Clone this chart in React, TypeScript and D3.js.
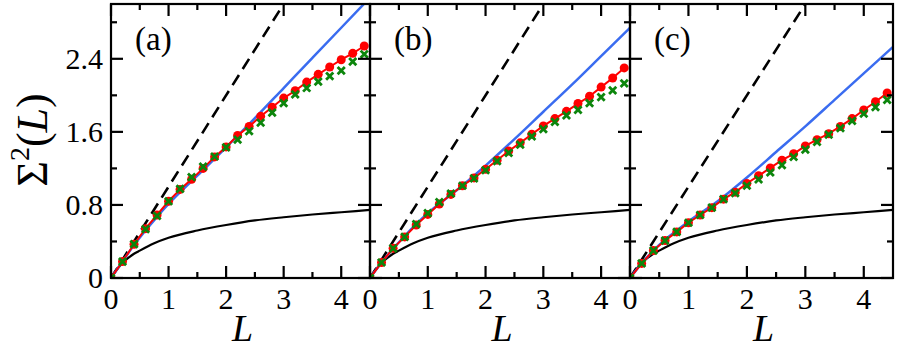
import React, { useEffect, useRef } from 'react'
import * as d3 from 'd3'

// sample positions (same for every panel)
const L_POINTS = [0, 0.2, 0.4, 0.6, 0.8, 1.0, 1.2, 1.4, 1.6, 1.8, 2.0, 2.2, 2.4, 2.6, 2.8, 3.0, 3.2, 3.4, 3.6, 3.8, 4.0, 4.2, 4.4]

// red circles (connected)
const RED_A = [0, 0.18, 0.37, 0.54, 0.69, 0.84, 0.97, 1.08, 1.2, 1.326, 1.435, 1.56, 1.66, 1.77, 1.87, 1.97, 2.05, 2.145, 2.23, 2.31, 2.39, 2.46, 2.54]
const RED_B = [0, 0.17, 0.325, 0.45, 0.58, 0.696, 0.81, 0.915, 1.01, 1.096, 1.19, 1.29, 1.39, 1.48, 1.574, 1.665, 1.745, 1.825, 1.91, 1.99, 2.09, 2.19, 2.3]
const RED_C = [0, 0.16, 0.3, 0.41, 0.505, 0.605, 0.69, 0.77, 0.863, 0.94, 1.035, 1.12, 1.205, 1.29, 1.36, 1.446, 1.515, 1.58, 1.66, 1.745, 1.84, 1.93, 2.025]

// green crosses
const GREEN_A = [0, 0.18, 0.37, 0.535, 0.68, 0.84, 0.975, 1.105, 1.22, 1.33, 1.43, 1.515, 1.607, 1.7, 1.81, 1.915, 2.01, 2.08, 2.15, 2.21, 2.27, 2.37, 2.45]
const GREEN_B = [0, 0.17, 0.325, 0.45, 0.59, 0.71, 0.83, 0.925, 1.01, 1.09, 1.18, 1.28, 1.37, 1.46, 1.55, 1.63, 1.71, 1.78, 1.84, 1.915, 1.98, 2.055, 2.13]
const GREEN_C = [0, 0.16, 0.3, 0.41, 0.505, 0.605, 0.69, 0.77, 0.863, 0.93, 1.01, 1.08, 1.155, 1.235, 1.325, 1.405, 1.49, 1.57, 1.64, 1.72, 1.8, 1.87, 1.95]

// blue theory curve
const BLUE_L = [0, 0.2, 0.4, 0.6, 0.8, 1, 1.5, 2, 2.5, 3, 3.5, 4, 4.5]
const BLUE_A = [0, 0.18, 0.36, 0.52, 0.67, 0.81, 1.12, 1.43, 1.75, 2.08, 2.41, 2.74, 3.07]
const BLUE_B = [0, 0.17, 0.32, 0.46, 0.59, 0.71, 0.96, 1.23, 1.52, 1.82, 2.12, 2.43, 2.74]
const BLUE_C = [0, 0.16, 0.3, 0.42, 0.52, 0.62, 0.84, 1.1, 1.38, 1.66, 1.95, 2.24, 2.53]

// black solid curve (same in all panels)
const GOE_L = [0, 0.1, 0.2, 0.3, 0.4, 0.5, 0.75, 1, 1.5, 2, 2.5, 3, 3.5, 4, 4.5]
const GOE_V = [0, 0.09, 0.165, 0.22, 0.265, 0.3, 0.38, 0.44, 0.52, 0.58, 0.63, 0.665, 0.695, 0.72, 0.745]

// black dashed line
const POISSON_L = [0, 3.1]
const POISSON_V = [0, 3.1]

const PANEL_NAMES = ['(a)', '(b)', '(c)']
const Y_MAJOR = [0, 0.8, 1.6, 2.4]
const Y_MINOR = [0.4, 1.2, 2.0, 2.8]
const X_MAJOR = [0, 1, 2, 3, 4]
const X_MINOR = [0.5, 1.5, 2.5, 3.5]

const panels = [
    { name: PANEL_NAMES[0], red: RED_A, green: GREEN_A, blue: BLUE_A },
    { name: PANEL_NAMES[1], red: RED_B, green: GREEN_B, blue: BLUE_B },
    { name: PANEL_NAMES[2], red: RED_C, green: GREEN_C, blue: BLUE_C },
]

export default function App() {
    const ref = useRef<HTMLDivElement>(null)

    useEffect(() => {
        const width = 897
        const height = 348
        const top = 4
        const bottom = 278
        const edges = [111, 370, 630, 893]
        const font = 'Liberation Serif, DejaVu Serif, serif'

        const svg = d3.create('svg')
            .attr('width', width)
            .attr('height', height)
            .attr('viewBox', [0, 0, width, height])
            .attr('font-family', font)
            .style('display', 'block')

        const y = d3.scaleLinear().domain([0, 3]).range([bottom, top])

        panels.forEach((p, i) => {
            const x0 = edges[i]
            const x1 = edges[i + 1]
            const x = d3.scaleLinear().domain([0, 4.5]).range([x0, x1])
            const g = svg.append('g')

            const clipId = `clip-${i}`
            svg.append('clipPath').attr('id', clipId)
                .append('rect')
                .attr('x', x0).attr('y', top)
                .attr('width', x1 - x0).attr('height', bottom - top)

            const plot = g.append('g').attr('clip-path', `url(#${clipId})`)

            const line = d3.line<[number, number]>()
                .x(d => x(d[0]))
                .y(d => y(d[1]))

            // black solid
            plot.append('path')
                .datum(GOE_L.map((l, k) => [l, GOE_V[k]] as [number, number]))
                .attr('d', line.curve(d3.curveMonotoneX))
                .attr('fill', 'none')
                .attr('stroke', '#000')
                .attr('stroke-width', 2.2)

            // dashed
            plot.append('path')
                .datum(POISSON_L.map((l, k) => [l, POISSON_V[k]] as [number, number]))
                .attr('d', line.curve(d3.curveLinear))
                .attr('fill', 'none')
                .attr('stroke', '#000')
                .attr('stroke-width', 2.6)
                .attr('stroke-dasharray', '12,7')

            // blue
            plot.append('path')
                .datum(BLUE_L.map((l, k) => [l, p.blue[k]] as [number, number]))
                .attr('d', line.curve(d3.curveMonotoneX))
                .attr('fill', 'none')
                .attr('stroke', '#3a6cf0')
                .attr('stroke-width', 2.5)

            // red line + dots
            const redPts = L_POINTS.map((l, k) => [l, p.red[k]] as [number, number])
            plot.append('path')
                .datum(redPts)
                .attr('d', line.curve(d3.curveLinear))
                .attr('fill', 'none')
                .attr('stroke', '#ff0000')
                .attr('stroke-width', 2)
            plot.selectAll('.dot')
                .data(redPts)
                .join('circle')
                .attr('class', 'dot')
                .attr('cx', d => x(d[0]))
                .attr('cy', d => y(d[1]))
                .attr('r', 4.5)
                .attr('fill', '#ff0000')

            // green crosses
            const s = 3.6
            plot.selectAll('.cross')
                .data(L_POINTS.map((l, k) => [l, p.green[k]] as [number, number]))
                .join('path')
                .attr('class', 'cross')
                .attr('d', d => {
                    const cx = x(d[0]), cy = y(d[1])
                    return `M${cx - s},${cy - s}L${cx + s},${cy + s}M${cx - s},${cy + s}L${cx + s},${cy - s}`
                })
                .attr('stroke', '#0c860c')
                .attr('stroke-width', 2.8)
                .attr('fill', 'none')

            // frame
            g.append('rect')
                .attr('x', x0).attr('y', top)
                .attr('width', x1 - x0).attr('height', bottom - top)
                .attr('fill', 'none')
                .attr('stroke', '#000')
                .attr('stroke-width', 2.2)

            const ticks = g.append('g').attr('stroke', '#000').attr('stroke-width', 2.2)
            const yTicks = [...Y_MAJOR.map(v => ({ v, len: 12 })), ...Y_MINOR.map(v => ({ v, len: 6 }))]
            yTicks.forEach(t => {
                ticks.append('line').attr('x1', x0).attr('x2', x0 + t.len).attr('y1', y(t.v)).attr('y2', y(t.v))
                ticks.append('line').attr('x1', x1).attr('x2', x1 - t.len).attr('y1', y(t.v)).attr('y2', y(t.v))
            })
            const xTicks = [...X_MAJOR.map(v => ({ v, len: 12 })), ...X_MINOR.map(v => ({ v, len: 6 }))]
            xTicks.forEach(t => {
                ticks.append('line').attr('x1', x(t.v)).attr('x2', x(t.v)).attr('y1', bottom).attr('y2', bottom - t.len)
                ticks.append('line').attr('x1', x(t.v)).attr('x2', x(t.v)).attr('y1', top).attr('y2', top + t.len)
            })

            // x tick labels
            g.selectAll('.xlab')
                .data(X_MAJOR)
                .join('text')
                .attr('class', 'xlab')
                .attr('x', d => x(d))
                .attr('y', 309)
                .attr('text-anchor', 'middle')
                .attr('font-size', 30)
                .text(d => d)

            // x axis title
            g.append('text')
                .attr('x', (x0 + x1) / 2 + 2)
                .attr('y', 341)
                .attr('text-anchor', 'middle')
                .attr('font-size', 38)
                .attr('font-style', 'italic')
                .text('L')

            // panel label
            g.append('text')
                .attr('x', x0 + 24)
                .attr('y', 50)
                .attr('font-size', 33)
                .text(p.name)

            if (i === 0) {
                g.selectAll('.ylab')
                    .data(Y_MAJOR)
                    .join('text')
                    .attr('class', 'ylab')
                    .attr('x', x0 - 8)
                    .attr('y', d => y(d) + 10)
                    .attr('text-anchor', 'end')
                    .attr('font-size', 30)
                    .text(d => d === 0 ? '0' : d.toFixed(1))

                const yt = g.append('text')
                    .attr('transform', `translate(47,140) rotate(-90)`)
                    .attr('text-anchor', 'middle')
                    .attr('font-size', 44)
                yt.append('tspan').text('Σ')
                yt.append('tspan').attr('font-size', 28).attr('dy', -18).text('2')
                yt.append('tspan').attr('dy', 18).text('(')
                yt.append('tspan').attr('font-style', 'italic').text('L')
                yt.append('tspan').text(')')
            }
        })

        if (ref.current) {
            ref.current.innerHTML = ''
            ref.current.append(svg.node() as SVGSVGElement)
        }
    }, [])

    return <div ref={ref} style={{ position: 'absolute', left: 0, top: 0 }}></div>
}
